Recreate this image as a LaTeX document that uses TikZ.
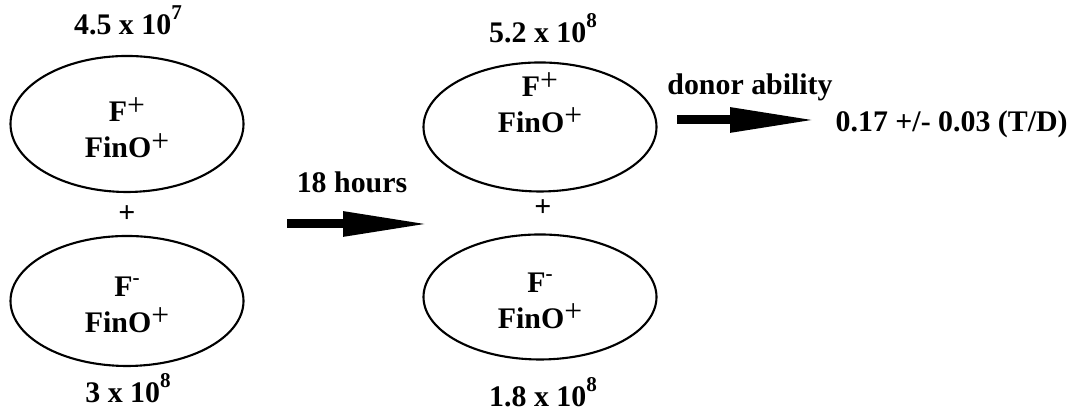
\documentclass[tikz,border=0pt]{standalone}
\usepackage{fontspec}
\setmainfont{Liberation Serif}
\usepackage{tikz}
\usetikzlibrary{arrows.meta,positioning,shapes.geometric}
\newcommand{\chgp}{\raisebox{1.8pt}{\fontsize{9}{9}\selectfont\mdseries +}}
\newcommand{\chgm}{\raisebox{3.3pt}{\fontsize{6}{6}\selectfont -}}
\newcommand{\pw}[1]{\raisebox{4.3pt}{\fontsize{6}{6}\selectfont #1}}

\begin{document}
\begin{tikzpicture}[
    txt/.style={font=\bfseries\fontsize{8.5}{10.2}\selectfont, inner sep=0pt},
    cell/.style={ellipse, draw=black, line width=0.6pt, minimum width=2.33cm, inner sep=0pt},
    bigarrow/.style={line width=0.09cm, -{Triangle[length=0.87cm,width=0.23cm]}}
]
    \useasboundingbox (0,0) rectangle (10.8,4.2);
    % donor populations, before and after
    \node[cell, minimum height=1.36cm] (e1) at (1.27,2.96) {};
    \node[cell, minimum height=1.30cm] (e2) at (1.27,1.19) {};
    \node[cell, minimum height=1.29cm] (e3) at (5.40,2.93) {};
    \node[cell, minimum height=1.25cm] (e4) at (5.40,1.23) {};
    \node[txt, align=center] (f1) at ([yshift=-1pt]e1.center) {F\chgp\\FinO\chgp};
    \node[txt, align=center] (f2) at ([yshift=-1pt]e2.center) {F\chgm\\FinO\chgp};
    \node[txt, align=center] (f3) at ([yshift=7pt]e3.center) {F\chgp\\FinO\chgp};
    \node[txt, align=center] (f4) at ([yshift=-1pt]e4.center) {F\chgm\\FinO\chgp};
    \node[txt] (p1) at (1.27,2.06) {+};
    \node[txt] (p2) at (5.43,2.12) {+};
    % counts
    \node[txt, anchor=base] (n1) at (1.28,3.85) {4.5 x 10\pw{7}};
    \node[txt, anchor=base] (n2) at (1.28,0.17) {3 x 10\pw{8}};
    \node[txt, anchor=base] (n3) at (5.43,3.77) {5.2 x 10\pw{8}};
    \node[txt, anchor=base] (n4) at (5.43,0.13) {1.8 x 10\pw{8}};
    % arrows
    \coordinate (a1s) at (2.87,1.96);
    \coordinate (a1e) at (4.30,1.96);
    \coordinate (a2s) at (6.77,3.00);
    \coordinate (a2e) at (8.17,3.00);
    \draw[bigarrow] (a1s) -- (a1e);
    \draw[bigarrow] (a2s) -- (a2e);
    \node[txt, anchor=base] (l1) at (3.52,2.27) {18 hours};
    \node[txt, anchor=base] (l2) at (7.50,3.25) {donor ability};
    \node[txt, anchor=base west] (r) at (8.35,2.88) {0.17 +/- 0.03 (T/D)};
\end{tikzpicture}
\end{document}
